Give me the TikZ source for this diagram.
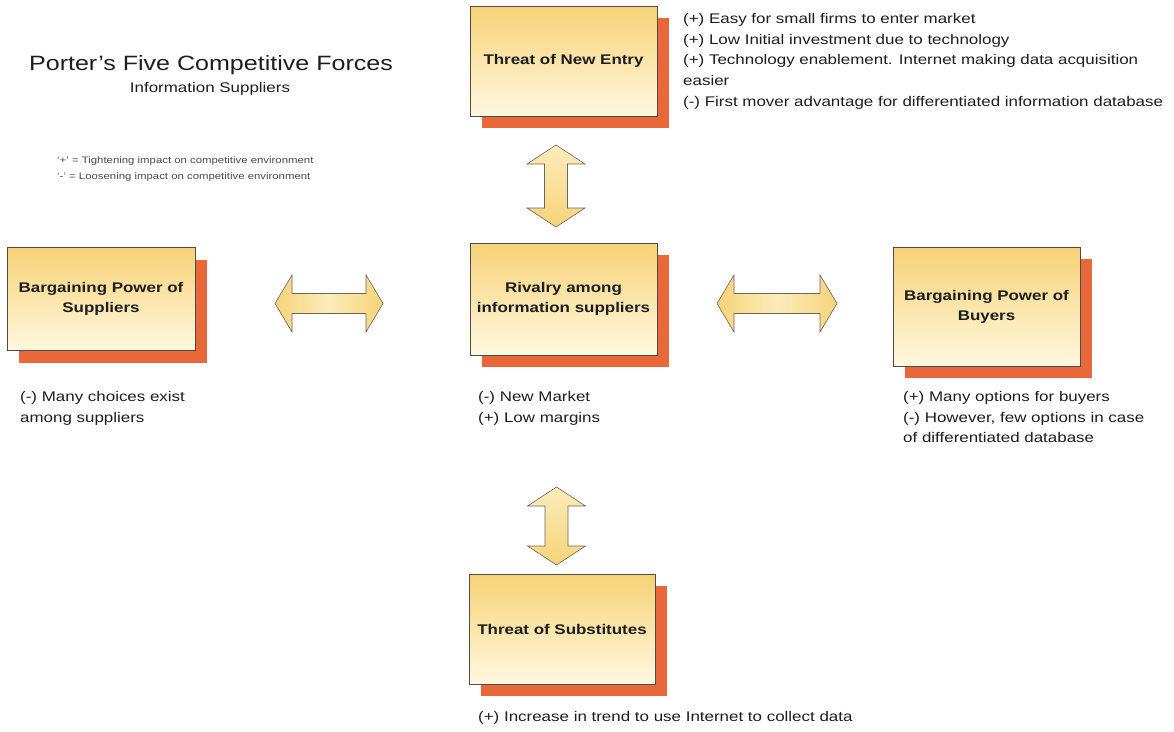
\documentclass[tikz,border=0pt]{standalone}
\usepackage{fontspec}
\setmainfont{Liberation Sans}[FakeStretch=1.21]
\definecolor{boxtop}{RGB}{247,210,118}
\definecolor{boxbot}{RGB}{255,248,224}
\definecolor{shadowc}{RGB}{232,104,58}
\definecolor{arrowtop}{RGB}{246,211,120}
\definecolor{arrowbot}{RGB}{252,236,186}
\definecolor{ink}{RGB}{30,30,30}

% box with an offset drop shadow: name, centre x, centre y, width, height, label
\newcommand\forcebox[6]{%
  \fill[shadowc] ({#2-#4/2+12},{#3-#5/2+12}) rectangle ++(#4,#5);
  \node[force, minimum width=#4pt, minimum height=#5pt] (#1) at (#2,#3) {#6};
}
% vertical double block arrow: centre x, top tip y, bottom tip y
\newcommand\vdarrow[3]{%
  \draw[blockarrow, top color=arrowbot, bottom color=arrowtop]
    (#1,#2) -- ++(29,19) -- ({#1+11.5},{#2+19}) -- ({#1+11.5},{#3-19})
    -- ({#1+29},{#3-19}) -- (#1,#3) -- ({#1-29},{#3-19}) -- ({#1-11.5},{#3-19})
    -- ({#1-11.5},{#2+19}) -- ({#1-29},{#2+19}) -- cycle;
}
% horizontal double block arrow: left tip x, right tip x, centre y
\newcommand\hdarrow[3]{%
  \draw[blockarrow, left color=arrowtop, right color=arrowtop, middle color=arrowbot]
    (#1,#3) -- ({#1+17},{#3-28.5}) -- ({#1+17},{#3-10}) -- ({#2-17},{#3-10})
    -- ({#2-17},{#3-28.5}) -- (#2,#3) -- ({#2-17},{#3+28.5}) -- ({#2-17},{#3+10})
    -- ({#1+17},{#3+10}) -- ({#1+17},{#3+28.5}) -- cycle;
}

\begin{document}
\begin{tikzpicture}[x=1pt,y=-1pt,
  force/.style={draw=black!70, line width=0.6pt, top color=boxtop, bottom color=boxbot,
    font=\bfseries\fontsize{14}{20}\selectfont, text=ink, align=center, inner sep=0pt},
  blockarrow/.style={draw=black!60, line width=0.6pt, line join=miter},
  note/.style={anchor=north west, align=left, inner sep=0pt,
    font=\fontsize{14}{20.8}\selectfont, text=ink}]
\useasboundingbox[fill=white] (0,0) rectangle (1174,731);

% title and legend
\node[font=\fontsize{20.7}{25}\selectfont, text=ink, inner sep=0pt] (title) at (211,65) {Porter's Five Competitive Forces};
\node[font=\fontsize{14}{16}\selectfont, text=ink, inner sep=0pt] (subtitle) at (210,89) {Information Suppliers};
\node[anchor=west, align=left, inner sep=0pt, font=\fontsize{9.4}{16}\selectfont, text=ink!80] (legend) at (57,169.5)
  {`+' = Tightening impact on competitive environment\\`-' = Loosening impact on competitive environment};

% the five forces
\forcebox{entry}{563.5}{61}{187}{110}{Threat of New Entry}
\forcebox{supp}{101}{299}{188}{103}{Bargaining Power of\\Suppliers}
\forcebox{riv}{563.5}{299}{187}{112}{Rivalry among\\information suppliers}
\forcebox{buy}{986.5}{306.5}{187}{119}{Bargaining Power of\\Buyers}
\forcebox{subst}{562}{629}{186}{110}{Threat of Substitutes}

% double arrows between the forces
\vdarrow{556}{145}{227}
\vdarrow{556.5}{487}{565}
\hdarrow{275}{383}{303.5}
\hdarrow{717}{837}{303.5}

% notes
\node[note] (entrynote) at (683,13) {(+) Easy for small firms to enter market\\(+) Low Initial investment due to technology\\(+) Technology enablement. Internet making data acquisition\\easier\\(-) First mover advantage for differentiated information database};
\node[note] (suppnote) at (20,391) {(-) Many choices exist\\among suppliers};
\node[note] (rivnote) at (478,391) {(-) New Market\\(+) Low margins};
\node[note] (buynote) at (903,391) {(+) Many options for buyers\\(-) However, few options in case\\of differentiated database};
\node[note] (substnote) at (478,711) {(+) Increase in trend to use Internet to collect data};
\end{tikzpicture}
\end{document}
